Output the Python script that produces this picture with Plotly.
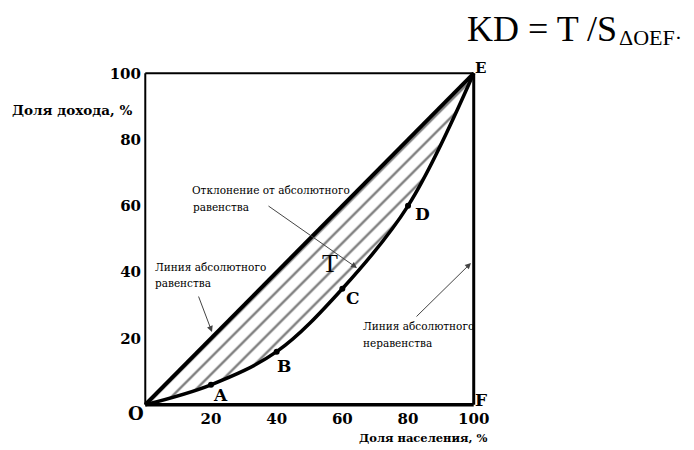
import plotly.graph_objects as go

# Lorenz curve: cumulative share of population vs. cumulative share of income, %
population_share = [0, 20, 40, 60, 80, 100]
income_share = [0, 6, 16, 35, 60, 100]
point_names = ["A", "B", "C", "D"]

# line of absolute equality
equality_x = [0, 100]
equality_y = [0, 100]

tick_values = [20, 40, 60, 80, 100]
tick_labels = ["20", "40", "60", "80", "100"]

# page geometry (px) of the plotting box
L, T_, W, H = 142, 70, 335, 338
X_RANGE = [-1, 101]
Y_RANGE = [-1, 101]


def at(px, py):
    """Convert a page pixel position into paper coordinates."""
    return (px - L) / W, 1 - (py - T_) / H


SERIF = "DejaVu Serif"
TIMES = "Liberation Serif"

fig = go.Figure()

# equality diagonal
fig.add_trace(go.Scatter(
    x=equality_x, y=equality_y, mode="lines",
    line=dict(color="black", width=4), hoverinfo="skip", showlegend=False,
))

# Lorenz curve, hatched area between it and the diagonal
fig.add_trace(go.Scatter(
    x=population_share, y=income_share, mode="lines",
    line=dict(color="black", width=3.5, shape="spline", smoothing=1.0),
    fill="tonexty", fillcolor="rgba(0,0,0,0)",
    fillpattern=dict(shape="/", fgcolor="black", bgcolor="rgba(0,0,0,0)",
                     size=12, solidity=0.2),
    hoverinfo="skip", showlegend=False,
))

# marked points A-D on the curve
fig.add_trace(go.Scatter(
    x=population_share[1:5], y=income_share[1:5], mode="markers",
    marker=dict(color="black", size=6), hoverinfo="skip", showlegend=False,
))

# frame O-E-F
frame = [
    (0, 0, 0, 100, 2),      # left
    (0, 100, 100, 100, 2),  # top
    (100, 0, 100, 100, 3),  # right
    (0, 0, 100, 0, 3.5),    # bottom
]
for x0, y0, x1, y1, w in frame:
    fig.add_shape(type="line", x0=x0, y0=y0, x1=x1, y1=y1, xref="x", yref="y",
                  line=dict(color="black", width=w), layer="above")

annotations = []


def label(text, px, py, size, family=SERIF, bold=False, xanchor="center",
          color="black"):
    x, y = at(px, py)
    annotations.append(dict(
        x=x, y=y, xref="paper", yref="paper", text=text, showarrow=False,
        xanchor=xanchor, yanchor="middle",
        font=dict(family=family, size=size, color=color,
                  weight="bold" if bold else "normal"),
    ))


def arrow(tip, tail):
    x, y = at(*tip)
    annotations.append(dict(
        x=x, y=y, xref="paper", yref="paper", text="", showarrow=True,
        ax=tail[0] - tip[0], ay=tail[1] - tip[1],
        arrowhead=2, arrowsize=1.2, arrowwidth=1, arrowcolor="#444",
    ))


# corner and point letters
label("O", 136, 413, 18, bold=True)
label("E", 481, 68, 15, bold=True)
label("F", 481, 400, 17, bold=True)
for name, (px, py) in zip(point_names,
                          [(220, 395), (284, 366), (353, 298), (422, 214)]):
    label(name, px, py, 17, bold=True)
label("T", 330, 263, 26, family=TIMES)

# axis titles
label("Доля дохода, %", 10, 110, 13.5, bold=True, xanchor="left")
label("Доля населения, %", 357, 438, 11.5, bold=True, xanchor="left")

# formula
label("KD = T /S", 465, 29, 36, family=TIMES, xanchor="left")
label("ΔOEF·", 617, 37, 22, family=TIMES, xanchor="left")

# explanatory notes
note = "black"
label("Отклонение от абсолютного", 190, 190, 10.5, xanchor="left", color=note)
label("равенства", 191, 207, 10.5, xanchor="left", color=note)
label("Линия абсолютного", 153, 267, 10.5, xanchor="left", color=note)
label("равенства", 153, 283, 10.5, xanchor="left", color=note)
label("Линия абсолютного", 361, 326, 10.5, xanchor="left", color=note)
label("неравенства", 361, 343, 10.5, xanchor="left", color=note)

arrow((357, 268), (267, 205))
arrow((212, 332), (198, 295))
arrow((471, 263), (415, 318))

axis_common = dict(
    showgrid=False, zeroline=False, showline=False, ticks="",
    tickvals=tick_values, ticktext=tick_labels,
    tickfont=dict(family=SERIF, size=15, color="black", weight="bold"),
)

fig.update_layout(
    width=694, height=450,
    margin=dict(l=L, r=694 - L - W, t=T_, b=450 - T_ - H, pad=0),
    paper_bgcolor="white", plot_bgcolor="white",
    xaxis=dict(range=X_RANGE, **axis_common),
    yaxis=dict(range=Y_RANGE, **axis_common),
    annotations=annotations,
    showlegend=False,
)

fig.write_html("out.html")
